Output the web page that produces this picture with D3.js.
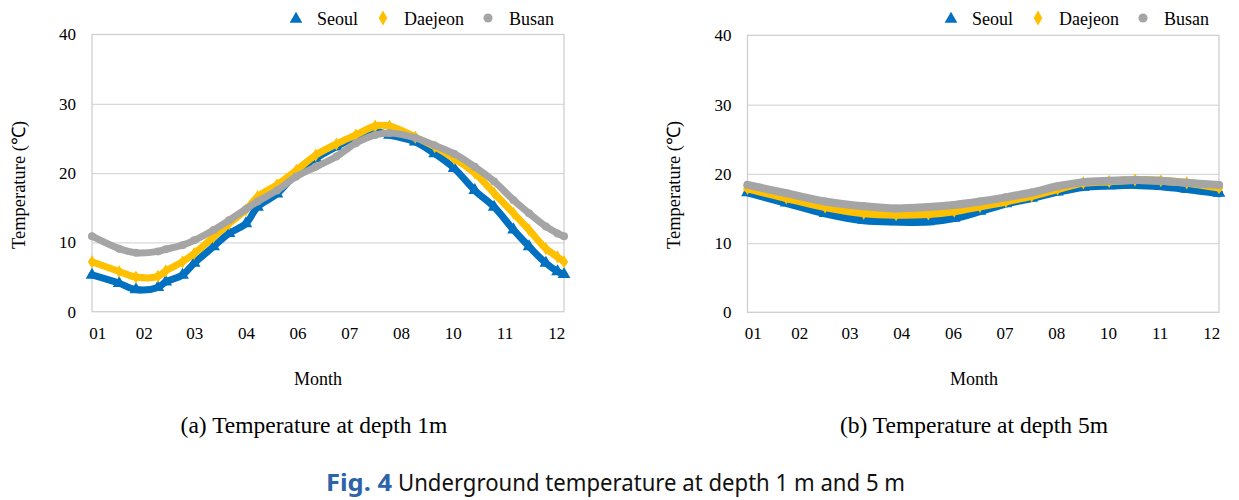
<!DOCTYPE html>
<html>
<head>
<meta charset="utf-8">
<script src="https://cdn.jsdelivr.net/npm/d3@7"></script>
<style>
  html, body { margin: 0; padding: 0; background: #fff; }
  svg { display: block; }
</style>
</head>
<body>
<svg id="chart" width="1239" height="500"></svg>
<script>
// ---------------- DATA ----------------
const seriesNames = ["Seoul", "Daejeon", "Busan"];
const tickDays = [4, 40, 79, 119, 159, 199, 239, 279, 319, 359];
const tickLabels = ["01", "02", "03", "04", "06", "07", "08", "10", "11", "12"];
const yTicks = [0, 10, 20, 30, 40];

// depth 1 m
const days1m = [0, 21, 34, 51, 57, 70, 79, 94, 106, 119, 128, 143, 158, 173, 189, 204, 219, 230, 250, 265, 280, 296, 311, 326, 338, 351, 360, 365];
const seoul1m   = [5.3, 4.1, 3.2, 3.5, 4.3, 5.3, 7.0, 9.4, 11.3, 12.7, 15.1, 17.0, 20.0, 22.1, 23.8, 25.2, 26.0, 25.5, 24.5, 22.8, 20.7, 17.5, 15.1, 11.8, 9.4, 7.0, 5.8, 5.4];
const daejeon1m = [7.2, 5.8, 5.0, 5.1, 5.9, 7.2, 8.4, 10.8, 12.7, 14.7, 16.6, 18.3, 20.4, 22.6, 24.2, 25.5, 26.8, 26.8, 25.2, 23.8, 22.1, 20.0, 17.1, 14.2, 11.8, 9.1, 7.9, 7.2];
const busan1m   = [10.9, 9.1, 8.5, 8.7, 9.0, 9.6, 10.3, 11.8, 13.2, 14.8, 15.9, 17.5, 19.5, 20.9, 22.4, 24.3, 25.5, 25.8, 25.1, 24.0, 22.8, 20.9, 18.8, 16.1, 14.2, 12.3, 11.3, 10.9];

// depth 5 m
const days5m = [0, 30, 60, 90, 115, 140, 160, 180, 200, 220, 240, 260, 280, 300, 320, 340, 365];
const seoul5m   = [17.3, 15.8, 14.3, 13.3, 13.1, 13.1, 13.6, 14.6, 15.7, 16.5, 17.4, 18.1, 18.3, 18.4, 18.2, 17.8, 17.2];
const daejeon5m = [17.9, 16.5, 15.2, 14.3, 14.1, 14.2, 14.6, 15.3, 16.0, 16.8, 17.8, 18.7, 18.9, 19.1, 19.0, 18.7, 18.0];
const busan5m   = [18.4, 17.2, 16.0, 15.3, 15.0, 15.2, 15.5, 16.0, 16.6, 17.3, 18.2, 18.8, 19.0, 19.1, 19.0, 18.7, 18.4];

// ---------------- STYLE ----------------
const colors = { Seoul: "#0070C0", Daejeon: "#FFC000", Busan: "#A5A5A5" };
const symbols = { Seoul: d3.symbolTriangle, Daejeon: d3.symbolDiamond, Busan: d3.symbolCircle };
const serif = "'Liberation Serif', 'Times New Roman', serif";

const svg = d3.select("#chart");

function drawPanel(opt) {
  const { left, top, width, height, days, data, legendX, ytitleX, monthX, subX, subText } = opt;
  const g = svg.append("g");
  const x = d3.scaleLinear().domain([0, 365]).range([left, left + width]);
  const y = d3.scaleLinear().domain([0, 40]).range([top + height, top]);

  // gridlines
  g.append("g")
    .attr("transform", `translate(${left},0)`)
    .call(d3.axisLeft(y).tickValues([10, 20, 30]).tickSize(-width).tickFormat(""))
    .call(s => s.select(".domain").remove())
    .call(s => s.selectAll("line").attr("stroke", "#D9D9D9").attr("stroke-width", 1.2));

  // frame
  g.append("rect")
    .attr("x", left).attr("y", top).attr("width", width).attr("height", height)
    .attr("fill", "none").attr("stroke", "#CFCFCF").attr("stroke-width", 1.3);

  // y axis labels
  g.append("g")
    .attr("transform", `translate(${left},0)`)
    .call(d3.axisLeft(y).tickValues(yTicks).tickSize(0).tickPadding(16))
    .call(s => s.select(".domain").remove())
    .call(s => s.selectAll("text").attr("font-family", serif).attr("font-size", 17).attr("fill", "#000"));

  // x axis labels
  g.append("g")
    .attr("transform", `translate(0,${top + height})`)
    .call(d3.axisBottom(x).tickValues(tickDays).tickSize(0).tickPadding(15)
      .tickFormat((d, i) => tickLabels[i]))
    .call(s => s.select(".domain").remove())
    .call(s => s.selectAll("text").attr("font-family", serif).attr("font-size", 17).attr("fill", "#000"));

  // series
  const line = d3.line().x((d, i) => x(days[i])).y(d => y(d)).curve(d3.curveCatmullRom);
  seriesNames.forEach((name, si) => {
    const vals = data[si];
    const sg = g.append("g");
    sg.append("path")
      .attr("d", line(vals))
      .attr("fill", "none")
      .attr("stroke", colors[name])
      .attr("stroke-width", opt.bandWidth)
      .attr("stroke-linejoin", "round")
      .attr("stroke-linecap", "round");
    sg.selectAll("path.m")
      .data(vals)
      .join("path")
      .attr("class", "m")
      .attr("transform", (d, i) => `translate(${x(days[i])},${y(d)})`)
      .attr("d", d3.symbol().type(symbols[name]).size(name === "Seoul" ? 70 : 50))
      .attr("fill", colors[name]);
  });

  // legend
  const lg = g.append("g").attr("transform", `translate(${legendX},18)`);
  const legendOffsets = [0, 87, 192];
  seriesNames.forEach((name, i) => {
    const item = lg.append("g").attr("transform", `translate(${legendOffsets[i]},0)`);
    item.append("path")
      .attr("d", d3.symbol().type(symbols[name]).size(name === "Seoul" ? 70 : 65))
      .attr("transform", name === "Seoul" ? "translate(0,1)" : null)
      .attr("fill", colors[name]);
    item.append("text")
      .attr("x", 21).attr("y", 6.5)
      .attr("font-family", serif).attr("font-size", 18).attr("fill", "#000")
      .text(name);
  });

  // y title
  g.append("text")
    .attr("transform", `translate(${ytitleX},185) rotate(-90)`)
    .attr("text-anchor", "middle")
    .attr("font-family", serif).attr("font-size", 18.5).attr("fill", "#000")
    .text("Temperature (℃)");

  // x title
  g.append("text")
    .attr("x", monthX).attr("y", 385)
    .attr("text-anchor", "middle")
    .attr("font-family", serif).attr("font-size", 18).attr("fill", "#000")
    .text("Month");

  // subcaption
  g.append("text")
    .attr("x", subX).attr("y", 433)
    .attr("text-anchor", "middle")
    .attr("font-family", serif).attr("font-size", 23.5).attr("fill", "#000")
    .text(subText);
}

drawPanel({
  left: 92, top: 34.5, width: 472, height: 277.2,
  days: days1m, data: [seoul1m, daejeon1m, busan1m],
  legendX: 296, ytitleX: 25, monthX: 318, subX: 314,
  subText: "(a) Temperature at depth 1m", bandWidth: 7
});

drawPanel({
  left: 747.5, top: 35.3, width: 471.5, height: 277,
  days: days5m, data: [seoul5m, daejeon5m, busan5m],
  legendX: 951, ytitleX: 680, monthX: 974, subX: 974,
  subText: "(b) Temperature at depth 5m", bandWidth: 8
});

// figure caption
const cap = svg.append("text")
  .attr("y", 491)
  .attr("font-family", "'Noto Sans', 'Open Sans', sans-serif")
  .attr("font-size", 23);
cap.append("tspan")
  .attr("x", 326)
  .attr("font-weight", "bold")
  .attr("fill", "#2D63A8")
  .attr("textLength", 66)
  .attr("lengthAdjust", "spacingAndGlyphs")
  .text("Fig. 4");
cap.append("tspan")
  .attr("x", 398)
  .attr("fill", "#111")
  .attr("textLength", 507)
  .attr("lengthAdjust", "spacingAndGlyphs")
  .text("Underground temperature at depth 1 m and 5 m");
</script>
</body>
</html>
